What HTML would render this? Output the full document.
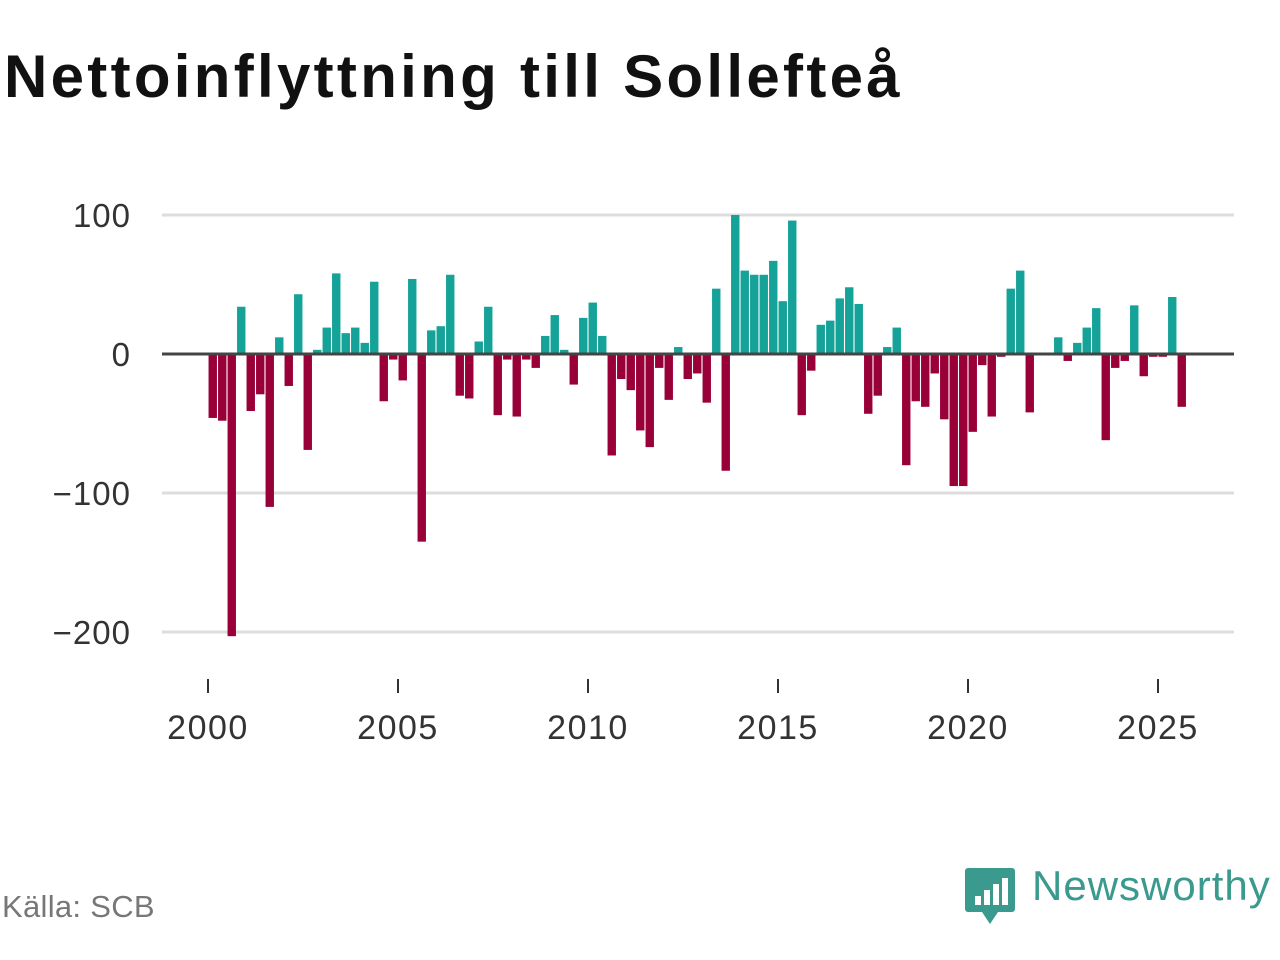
<!DOCTYPE html>
<html><head><meta charset="utf-8"><style>
body{margin:0;background:#fff;width:1280px;height:960px;overflow:hidden;font-family:"Liberation Sans","DejaVu Sans",sans-serif}
#title{position:absolute;left:4px;top:42px;font-size:60px;font-weight:bold;color:#111;letter-spacing:3.3px}
#src{position:absolute;left:2px;top:889px;font-size:31px;color:#777;letter-spacing:0.3px}
#logo{position:absolute;left:964px;top:866px}
#logotext{position:absolute;left:1032px;top:862px;font-size:42px;color:#3a9a8d;letter-spacing:1px}
</style></head><body>
<div id="title">Nettoinflyttning till Sollefteå</div>
<svg id="chart" width="1280" height="960" style="position:absolute;left:0;top:0"></svg>
<div id="src">Källa: SCB</div>
<svg id="logo" width="52" height="60" viewBox="0 0 52 60">
<path d="M4 2h44a3 3 0 0 1 3 3v38a3 3 0 0 1-3 3H34l-8 12-8-12H4a3 3 0 0 1-3-3V5a3 3 0 0 1 3-3z" fill="#3a9a8d"/>
<rect x="11" y="30" width="6" height="9" fill="#fff"/><rect x="20" y="24" width="6" height="15" fill="#fff"/><rect x="29" y="18" width="6" height="21" fill="#fff"/><rect x="38" y="12" width="6" height="27" fill="#fff"/>
</svg>
<div id="logotext">Newsworthy</div>
<script>
const values=[-46,-48,-203,34,-41,-29,-110,12,-23,43,-69,3,19,58,15,19,8,52,-34,-4,-19,54,-135,17,20,57,-30,-32,9,34,-44,-4,-45,-4,-10,
13,28,3,-22,26,37,13,-73,-18,-26,-55,-67,-10,-33,5,-18,-14,-35,47,-84,100,60,57,57,67,38,96,-44,-12,21,24,40,48,36,
-43,-30,5,19,-80,-34,-38,-14,-47,-95,-95,-56,-8,-45,-2,47,60,-42,0,0,12,-5,8,19,33,-62,-10,-5,35,-16,-2,-2,41,-38];
const startYear=2000;
const yTicks=[100,0,-100,-200];
const xTicks=[2000,2005,2010,2015,2020,2025];
const NS="http://www.w3.org/2000/svg";
const svg=document.getElementById('chart');
const y=v=>354-v*1.39;
const x=t=>208+(t-2000)*38;
function mk(tag,a){const e=document.createElementNS(NS,tag);for(const k in a)e.setAttribute(k,a[k]);svg.appendChild(e);return e;}
yTicks.forEach(t=>{
  if(t!==0){const g=mk('line',{x1:162,x2:1234,y1:y(t),y2:y(t),stroke:'#ddd','stroke-width':3});
  
  }
  const l=mk('text',{x:131,y:y(t)+12,'text-anchor':'end','font-size':33,fill:'#333','letter-spacing':1,'font-family':'Liberation Sans, sans-serif'});
  l.textContent=(t<0?'\u2212'+(-t):t);
  
  
});
values.forEach((v,i)=>{
  const cx=x(startYear+i/4)+4.75;
  const r=mk('rect',{x:cx-4.2,width:8.4,y:v>=0?y(v):y(0),height:Math.abs(v)*1.39,fill:v>=0?'#15a298':'#990038'});
  
  
});
const z=mk('line',{x1:162,x2:1234,y1:y(0),y2:y(0),stroke:'#444','stroke-width':3});


xTicks.forEach(t=>{
  const k=mk('line',{x1:x(t),x2:x(t),y1:679,y2:693,stroke:'#333','stroke-width':2});
  
  
  const l=mk('text',{x:x(t),y:739,'text-anchor':'middle','font-size':34,fill:'#333','letter-spacing':1.5,'font-family':'Liberation Sans, sans-serif'});
  l.textContent=t;
  
  
});
</script>
</body></html>
